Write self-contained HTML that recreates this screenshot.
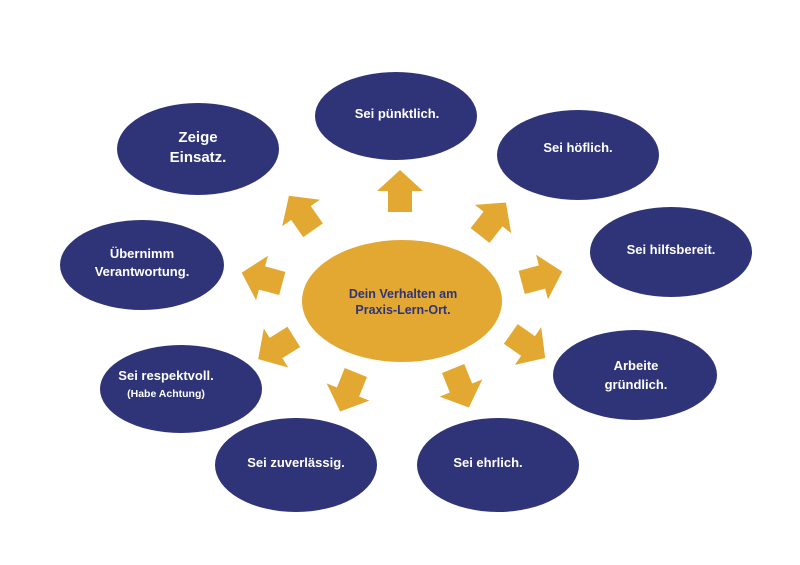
<!DOCTYPE html>
<html><head><meta charset="utf-8"><style>
html,body{margin:0;padding:0;background:#fff;}
svg{display:block;}
text{font-family:"Liberation Sans",sans-serif;font-weight:bold;}
</style></head><body>
<svg width="800" height="565" viewBox="0 0 800 565" xmlns="http://www.w3.org/2000/svg">
<defs>
<polygon id="ar" points="-21,-12 0,-12 0,-23 21,0 0,23 0,12 -21,12" fill="#e3a832"/>
</defs>
<g fill="#2e3477">
<ellipse cx="396" cy="116" rx="81" ry="44"/>
<ellipse cx="578" cy="155" rx="81" ry="45"/>
<ellipse cx="671" cy="252" rx="81" ry="45"/>
<ellipse cx="635" cy="375" rx="82" ry="45"/>
<ellipse cx="498" cy="465" rx="81" ry="47"/>
<ellipse cx="296" cy="465" rx="81" ry="47"/>
<ellipse cx="181" cy="389" rx="81" ry="44"/>
<ellipse cx="142" cy="265" rx="82" ry="45"/>
<ellipse cx="198" cy="149" rx="81" ry="46"/>
</g>
<ellipse cx="402" cy="301" rx="100" ry="61" fill="#e3a832"/>
<use href="#ar" transform="translate(400,191) rotate(-90)"/>
<use href="#ar" transform="translate(493,219) rotate(-52)"/>
<use href="#ar" transform="translate(542,277) rotate(-15)"/>
<use href="#ar" transform="translate(528,346) rotate(35)"/>
<use href="#ar" transform="translate(461,388) rotate(68)"/>
<use href="#ar" transform="translate(348,392) rotate(112)"/>
<use href="#ar" transform="translate(276,348) rotate(148)"/>
<use href="#ar" transform="translate(262,278) rotate(195)"/>
<use href="#ar" transform="translate(301,213) rotate(-125)"/>
<g fill="#fff" font-size="13" text-anchor="middle">
<text x="397" y="118">Sei pünktlich.</text>
<text x="578" y="152">Sei höflich.</text>
<text x="671" y="254">Sei hilfsbereit.</text>
<text x="636" y="370">Arbeite</text>
<text x="636" y="389">gründlich.</text>
<text x="488" y="467">Sei ehrlich.</text>
<text x="296" y="467">Sei zuverlässig.</text>
<text x="166" y="380">Sei respektvoll.</text>
<text x="166" y="397" font-size="10.5">(Habe Achtung)</text>
<text x="142" y="258">Übernimm</text>
<text x="142" y="276">Verantwortung.</text>
<text x="198" y="142" font-size="15">Zeige</text>
<text x="198" y="162" font-size="15">Einsatz.</text>
</g>
<g fill="#2e3477" font-size="12.5" text-anchor="middle">
<text x="403" y="298">Dein Verhalten am</text>
<text x="403" y="314">Praxis-Lern-Ort.</text>
</g>
</svg>
</body></html>
